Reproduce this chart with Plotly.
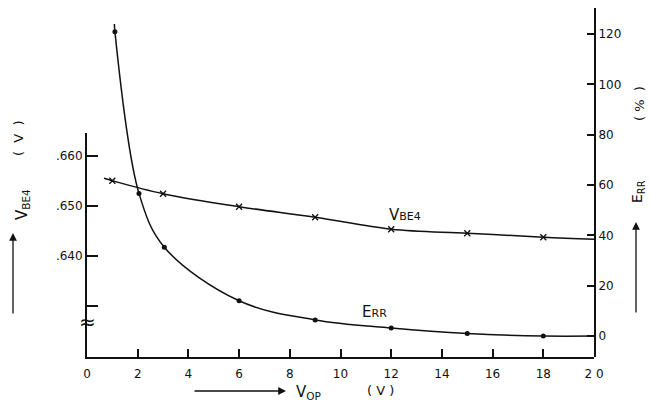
import plotly.graph_objects as go

# ---- data ----
vop_vbe = [1, 3, 6, 9, 12, 15, 18]
vbe4 = [0.6550, 0.6524, 0.6498, 0.6477, 0.6453, 0.6445, 0.6437]
vbe_curve_vop = [0.67, 1, 3, 6, 9, 12, 15, 18, 20]
vbe_curve = [0.6555, 0.6550, 0.6524, 0.6498, 0.6477, 0.6453, 0.6445, 0.6437, 0.6433]

vop_err = [1.1, 2.05, 3.05, 6, 9, 12, 15, 18]
err = [121, 56.7, 35.3, 14.0, 6.4, 3.2, 1.0, 0.0]
err_curve_vop = [1.08, 1.1, 2.05, 3.05, 6, 9, 12, 15, 18, 20]
err_curve = [124, 121, 56.7, 35.3, 14.0, 6.4, 3.2, 1.0, 0.0, 0.0]

x_ticks = [0, 2, 4, 6, 8, 10, 12, 14, 16, 18, 20]
x_tick_labels = ["0", "2", "4", "6", "8", "10", "12", "14", "16", "18", "2 0"]
vbe_ticks = [0.630, 0.640, 0.650, 0.660]
vbe_tick_labels = ["", ".640", ".650", ".660"]
err_ticks = [0, 20, 40, 60, 80, 100, 120]
err_tick_labels = ["0", "20", "40", "60", "80", "100", "120"]

FONT = "DejaVu Sans"
BLACK = "#111111"

fig = go.Figure()

# V_BE4 curve (left axis)
fig.add_trace(go.Scatter(x=vbe_curve_vop, y=vbe_curve, mode="lines",
                         line=dict(color=BLACK, width=1.5, shape="spline"),
                         xaxis="x", yaxis="y", showlegend=False, hoverinfo="skip"))
fig.add_trace(go.Scatter(x=vop_vbe, y=vbe4, mode="markers",
                         marker=dict(symbol="x-thin", size=6, line=dict(color=BLACK, width=1.3)),
                         xaxis="x", yaxis="y", showlegend=False))

# Err curve (right axis)
fig.add_trace(go.Scatter(x=err_curve_vop, y=err_curve, mode="lines",
                         line=dict(color=BLACK, width=1.5, shape="spline"),
                         xaxis="x", yaxis="y2", showlegend=False, hoverinfo="skip"))
fig.add_trace(go.Scatter(x=vop_err, y=err, mode="markers",
                         marker=dict(symbol="circle", size=5, color=BLACK),
                         xaxis="x", yaxis="y2", showlegend=False))

L, R, T, B = 87, 55, 8, 47
W, H = 649, 404
plot_h = H - T - B

fig.update_layout(
    width=W, height=H,
    margin=dict(l=L, r=R, t=T, b=B, pad=0),
    paper_bgcolor="white", plot_bgcolor="rgba(0,0,0,0)",
    font=dict(family=FONT, size=12, color=BLACK),
    xaxis=dict(range=[0, 20], tickvals=x_ticks, ticktext=x_tick_labels,
               ticks="inside", ticklen=8, tickwidth=1.5, tickcolor=BLACK,
               showline=True, linewidth=2, linecolor=BLACK,
               showgrid=False, zeroline=False, anchor="y",
               ticklabelstandoff=5, tickfont=dict(size=12)),
    yaxis=dict(domain=[0, (357 - 133) / plot_h], range=[0.61974, 0.66454],
               tickvals=vbe_ticks, ticktext=vbe_tick_labels,
               ticks="inside", ticklen=11, tickwidth=1.5, tickcolor=BLACK,
               showline=True, linewidth=2, linecolor=BLACK,
               showgrid=False, zeroline=False, anchor="x",
               tickfont=dict(size=12)),
    yaxis2=dict(domain=[0, 1], range=[-8.35, 130.4], side="right", anchor="x",
                tickvals=err_ticks, ticktext=err_tick_labels,
                ticks="inside", ticklen=7, tickwidth=1.5, tickcolor=BLACK,
                showline=True, linewidth=2, linecolor=BLACK,
                showgrid=False, zeroline=False,
                tickfont=dict(size=12)),
)

def px(xpix):
    return (xpix - L) / (W - L - R)

def py(ypix):
    return (H - B - ypix) / plot_h

def label(x, y, text, size, angle=0):
    return dict(xref="paper", yref="paper", x=px(x), y=py(y), text=text,
                xanchor="center", yanchor="middle", textangle=angle,
                showarrow=False, font=dict(size=size))

def arrow(x, y, ax, ay):
    return dict(xref="paper", yref="paper", x=px(x), y=py(y), ax=ax, ay=ay,
                text="", showarrow=True, arrowhead=2, arrowsize=1.2,
                arrowwidth=1.3, arrowcolor=BLACK)

ann = [
    arrow(13, 233, 0, 82),
    arrow(636, 222, 0, 92),
    arrow(286, 391, -93, 0),
    label(22, 205, "V<sub>BE4</sub>", 15, -90),
    label(18, 138, "(  V  )", 13, -90),
    label(638, 192, "E<sub>RR</sub>", 14, -90),
    label(639, 104, "( %  )", 13, -90),
    label(308, 392, "V<sub>OP</sub>", 15),
    label(380, 390, "( V )", 13),
    label(405, 215, "V<span style='font-size:11px'>BE4</span>", 15),
    label(374, 312, "E<span style='font-size:11px'>RR</span>", 15),
    label(87, 322, "≈", 20),
]

fig.update_layout(annotations=ann)

fig.write_html("out.html", config={"displayModeBar": False},
               post_script="document.body.style.margin='0';")
